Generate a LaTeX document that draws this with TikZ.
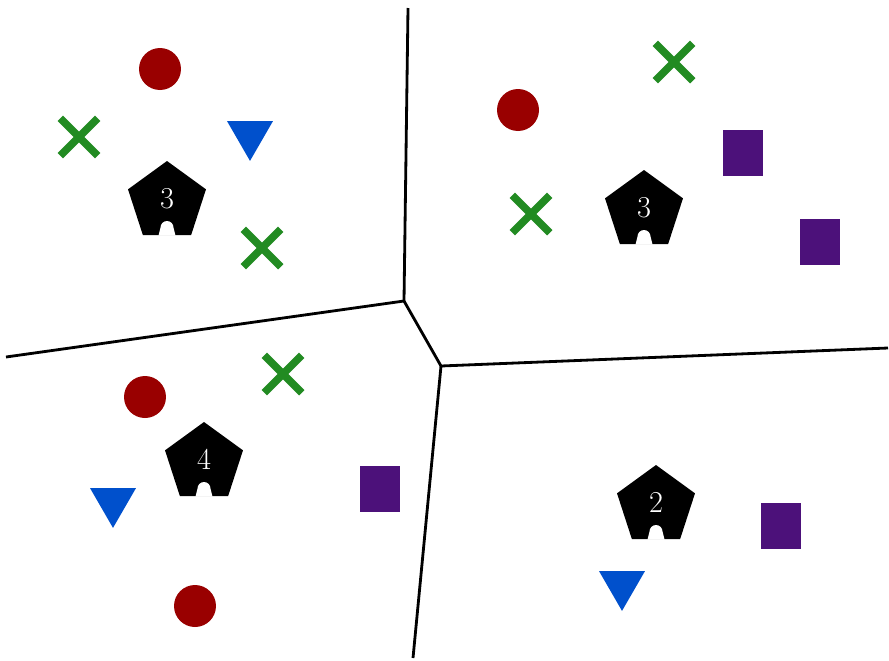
\documentclass[tikz,border=0pt]{standalone}
\usepackage{tikz}
\usetikzlibrary{shapes.geometric,shapes.misc}

\definecolor{ptred}{RGB}{153,0,0}
\definecolor{ptgreen}{RGB}{34,139,34}
\definecolor{ptblue}{RGB}{0,80,204}
\definecolor{ptpurple}{RGB}{76,17,122}

\tikzset{
  redpt/.style={circle, fill=ptred, inner sep=0pt, minimum size=0.84cm},
  greenpt/.style={cross out, draw=ptgreen, line width=0.15cm, inner sep=0pt, minimum size=0.6cm},
  bluept/.style={regular polygon, regular polygon sides=3, shape border rotate=180, fill=ptblue, inner sep=0pt, minimum size=1.06cm},
  purplept/.style={rectangle, fill=ptpurple, inner sep=0pt, minimum width=0.8cm, minimum height=0.92cm},
  house/.style={regular polygon, regular polygon sides=5, fill=black, text=white, inner sep=0pt, minimum size=1.64cm, font=\LARGE, text depth=4.5pt},
  border/.style={line width=1.6pt}
}

\begin{document}
\begin{tikzpicture}[x=0.02cm, y=-0.02cm]
				\useasboundingbox (0,0) rectangle (889,660);
				
				% region borders
				\coordinate (T) at (408,8);
				\coordinate (A) at (404,301);
				\coordinate (L) at (6,357);
				\coordinate (B) at (441,366);
				\coordinate (R) at (888,348);
				\coordinate (D) at (413,658);
				\draw[border] (T) -- (A) -- (L);
				\draw[border] (A) -- (B) -- (R);
				\draw[border] (B) -- (D);
				
				% points
				\node[redpt] (r1) at (160,69) {};
				\node[redpt] (r2) at (518,110) {};
				\node[redpt] (r3) at (145,397) {};
				\node[redpt] (r4) at (195,606) {};
				
				\node[greenpt] (g1) at (79,137) {};
				\node[greenpt] (g2) at (674,62) {};
				\node[greenpt] (g3) at (531,214) {};
				\node[greenpt] (g4) at (262,248) {};
				\node[greenpt] (g5) at (283,374) {};
				
				\node[bluept] (b1) at (250,134.4) {};
				\node[bluept] (b2) at (113,501.4) {};
				\node[bluept] (b3) at (622,584.4) {};
				
				\node[purplept] (p1) at (743,153) {};
				\node[purplept] (p2) at (820,242) {};
				\node[purplept] (p3) at (380,489) {};
				\node[purplept] (p4) at (781,526) {};
				
				% houses with counts
				\node[house] (h1) at (167,202) {3};
				\node[house] (h2) at (644,211) {3};
				\node[house] (h3) at (204,463) {4};
				\node[house] (h4) at (656,506) {2};
				\foreach \h in {h1,h2,h3,h4}
				  \fill[white] ([xshift=-0.17cm]\h.south) -- ++(0.04cm,0.16cm) arc[start angle=180, end angle=0, radius=0.13cm] -- ++(0.04cm,-0.16cm) -- cycle;
			\end{tikzpicture}
\end{document}
